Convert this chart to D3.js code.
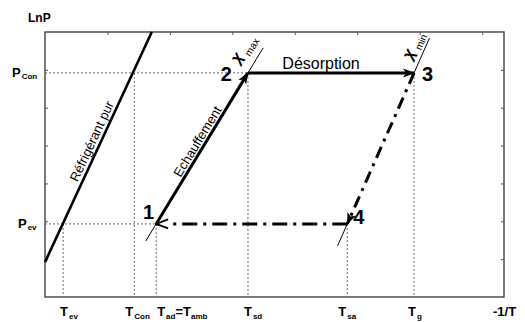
<!DOCTYPE html>
<html><head><meta charset="utf-8">
<script src="https://cdn.jsdelivr.net/npm/d3@7/dist/d3.min.js"></script>
<style>body{margin:0;background:#fff}svg{display:block}text{font-family:"Liberation Sans",Arial,Helvetica,sans-serif}</style>
</head><body>
<script>
// ---- data (abstract units: x = -1/T, y = LnP) ----
const xTicks = [1,2,3,4,5,6,7];
const yTicks = [1,2,3,4,5,6];
const tempNames  = ["ev","Con","ad","sd","sa","g"];
const tempValues = [0.29,1.43,1.78,3.25,4.84,5.91];
const tempLevel  = [1.93,5.92,1.93,5.92,1.93,5.92]; // pressure level each temperature guide rises to
const presNames  = ["Con","ev"];
const presValues = [5.92,1.93];
const presReach  = [5.91,1.78];                      // x where each pressure guide ends
const cycleNames = ["1","2","3","4"];
const cycleX     = [1.78,3.25,5.91,4.84];
const cycleY     = [1.93,5.92,5.92,1.93];
const refX = [0,1.71], refY = [0.92,7];              // Réfrigérant pur
const xmaxY = [1.48,6.58];                           // isostère x_max extent (LnP)
const xminY = [1.35,6.84];                           // isostère x_min extent (LnP)

const W=525,H=322, m={l:45,t:32,r:21,b:25};
const svg=d3.select("body").append("svg").attr("width",W).attr("height",H);
const x=d3.scaleLinear().domain([0,7.35]).range([m.l,W-m.r]);
const y=d3.scaleLinear().domain([0,7]).range([H-m.b,m.t]);

const defs=svg.append("defs");
defs.append("marker").attr("id","af").attr("viewBox","0 -5 12 10").attr("refX",11).attr("refY",0)
  .attr("markerUnits","userSpaceOnUse").attr("markerWidth",13).attr("markerHeight",10).attr("orient","auto")
  .append("path").attr("d","M0,-4.5L12,0L0,4.5L3,0Z").attr("fill","#000");
defs.append("marker").attr("id","ao").attr("viewBox","-1 -6 14 12").attr("refX",12).attr("refY",0)
  .attr("markerUnits","userSpaceOnUse").attr("markerWidth",14).attr("markerHeight",12).attr("orient","auto")
  .append("path").attr("d","M0,-4.5L12,0L0,4.5").attr("fill","#fff").attr("stroke","#000").attr("stroke-width",1.8);

// frame + ticks
const g=svg.append("g");
g.append("rect").attr("x",x(0)).attr("y",y(7)).attr("width",x(7.35)-x(0)).attr("height",y(0)-y(7))
  .attr("fill","none").attr("stroke","#333").attr("stroke-width",1.3);
const ax=[
  [d3.axisTop(x).tickValues(xTicks),`translate(0,${y(7)})`],
  [d3.axisLeft(y).tickValues(yTicks),`translate(${x(0)},0)`],
  [d3.axisRight(y).tickValues(yTicks),`translate(${x(7.35)},0)`]
];
ax.forEach(([a,t])=>{
  const s=g.append("g").attr("transform",t).call(a.tickSize(-3).tickFormat(""));
  s.select(".domain").remove();
  s.selectAll("line").attr("stroke","#555").attr("stroke-width",1);
});

// guides
const guide=svg.append("g").attr("stroke","#666").attr("stroke-width",1).attr("stroke-dasharray","2,2").attr("fill","none");
tempValues.forEach((v,i)=>guide.append("line").attr("x1",x(v)).attr("x2",x(v)).attr("y1",y(tempLevel[i])).attr("y2",y(0)));
presValues.forEach((v,i)=>guide.append("line").attr("x1",x(0)).attr("x2",x(presReach[i])).attr("y1",y(v)).attr("y2",y(v)));

// refrigerant line
svg.append("line").attr("x1",x(refX[0])).attr("y1",y(refY[0])).attr("x2",x(refX[1])).attr("y2",y(refY[1]))
  .attr("stroke","#000").attr("stroke-width",2.6);

// isosteres: visible as stubs beyond the cycle corners
function along(p,q,yy){const t=(yy-p[1])/(q[1]-p[1]);return [p[0]+t*(q[0]-p[0]),yy];}
const P=cycleNames.map((n,i)=>[cycleX[i],cycleY[i]]);
const isoMax=[along(P[0],P[1],xmaxY[0]),along(P[0],P[1],xmaxY[1])];
const isoMin=[along(P[3],P[2],xminY[0]),along(P[3],P[2],xminY[1])];
const stub=(a,b)=>svg.append("line").attr("x1",x(a[0])).attr("y1",y(a[1])).attr("x2",x(b[0])).attr("y2",y(b[1]))
  .attr("stroke","#000").attr("stroke-width",1);
stub(isoMax[0],P[0]); stub(P[1],isoMax[1]);
stub(isoMin[0],P[3]); stub(P[2],isoMin[1]);

// cycle arrows
const seg=(a,b,dash,mk)=>svg.append("line").attr("x1",x(a[0])).attr("y1",y(a[1])).attr("x2",x(b[0])).attr("y2",y(b[1]))
  .attr("stroke","#000").attr("stroke-width",3).attr("stroke-dasharray",dash).attr("marker-end",`url(#${mk})`);
seg(P[0],P[1],null,"af");
seg(P[1],P[2],null,"af");
seg(P[2],P[3],"12,6,3,6","af");
seg(P[3],P[0],"15,6,3,6","ao");

// rotated labels along lines
function rotLabel(p,q,t,txt,size,dy){
  const a=[x(p[0]),y(p[1])],b=[x(q[0]),y(q[1])];
  const ang=Math.atan2(b[1]-a[1],b[0]-a[0])*180/Math.PI;
  const px=a[0]+t*(b[0]-a[0]),py=a[1]+t*(b[1]-a[1]);
  svg.append("text").attr("transform",`translate(${px},${py}) rotate(${ang})`).attr("text-anchor","middle")
    .attr("dy",dy).attr("font-size",size).text(txt);
}
rotLabel([refX[0],refY[0]],[refX[1],refY[1]],0.51,"Réfrigérant pur",13,-4);
rotLabel(P[0],P[1],0.52,"Echauffement",13,-3);

// chi labels
function chi(seg,sub,o){
  const a=[x(seg[0][0]),y(seg[0][1])],b=[x(seg[1][0]),y(seg[1][1])];
  const ang=Math.atan2(b[1]-a[1],b[0]-a[0])*180/Math.PI;
  const gg=svg.append("g").attr("transform",`translate(${b[0]},${b[1]}) rotate(${ang})`);
  gg.append("text").attr("x",o[0]).attr("y",o[1]).attr("text-anchor","middle").attr("dominant-baseline","central")
    .attr("font-size",16).attr("font-weight","bold").attr("font-style","italic").text("χ");
  gg.append("text").attr("x",o[2]).attr("y",o[3]).attr("text-anchor","middle").attr("dominant-baseline","central")
    .attr("font-size",10).text(sub);
}
chi(isoMax,"max",[-22,-18,-5,-10]);
chi(isoMin,"min",[-23,-13,-7,-6]);

// Désorption
svg.append("text").attr("x",(x(P[1][0])+x(P[2][0]))/2-10).attr("y",y(P[1][1])-4).attr("text-anchor","middle")
  .attr("font-size",16).text("Désorption");

// cycle numbers
const numOff=[[-2,-5,"end"],[-16,8,"end"],[8,8,"start"],[6,0,"start"]];
cycleNames.forEach((n,i)=>svg.append("text").attr("x",x(cycleX[i])+numOff[i][0]).attr("y",y(cycleY[i])+numOff[i][1])
  .attr("text-anchor",numOff[i][2]).attr("font-size",20).attr("font-weight","bold").text(n));

// axis titles
svg.append("text").attr("x",28).attr("y",22).attr("font-size",12).attr("font-weight","bold").text("LnP");
const lab=svg.append("g").attr("font-weight","bold");
presNames.forEach((n,i)=>{
  const t=lab.append("text").attr("x",n==="Con"?12:18).attr("y",y(presValues[i])+4).attr("font-size",13);
  t.append("tspan").text("P");
  t.append("tspan").attr("font-size",8).attr("dy",2).attr("dx",1).text(n);
});
const tOff=[-3,-9,1,-4,-9,-6];
tempNames.forEach((n,i)=>{
  const t=lab.append("text").attr("x",x(tempValues[i])+tOff[i]).attr("y",316).attr("font-size",13);
  t.append("tspan").text("T");
  t.append("tspan").attr("font-size",8).attr("dy",3).attr("dx",1).text(n);
  if(n==="ad"){t.append("tspan").attr("font-size",13).attr("dy",-3).text("=T");
    t.append("tspan").attr("font-size",8).attr("dy",3).text("amb");}
});
lab.append("text").attr("x",493).attr("y",316).attr("font-size",13).text("-1/T");
</script>
</body></html>
